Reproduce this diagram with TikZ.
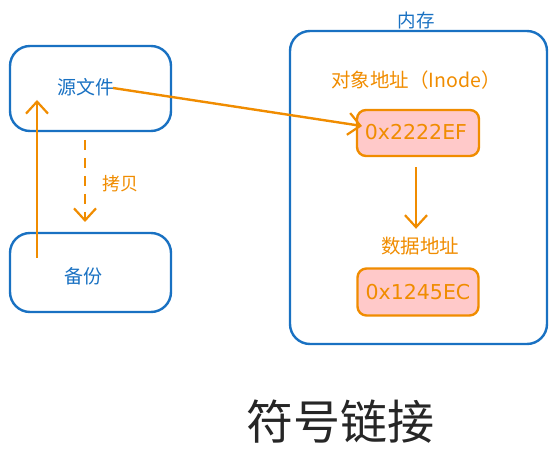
\documentclass[tikz,border=0pt]{standalone}
\usepackage{fontspec}
\setmainfont{Noto Sans CJK SC}
\newfontfamily\addrfont{DejaVu Sans}
\usetikzlibrary{arrows.meta}
\definecolor{eblue}{HTML}{1971C2}
\definecolor{eorange}{HTML}{F08C00}
\definecolor{epink}{HTML}{FFC9C9}
\begin{document}
\begin{tikzpicture}[x=1pt,y=-1pt,
  bluebox/.style={draw=eblue,line width=2.4pt,rounded corners=20pt},
  addrbox/.style={draw=eorange,fill=epink,line width=2.4pt,rounded corners=9pt},
  bluetxt/.style={text=eblue,font=\fontsize{19}{22}\selectfont,inner sep=0pt},
  oratxt/.style={text=eorange,font=\fontsize{19.5}{22}\selectfont,inner sep=0pt},
  addrtxt/.style={text=eorange,font=\addrfont\fontsize{20.5}{24}\selectfont,inner sep=0pt},
  conn/.style={draw=eorange,line width=2.4pt,-{Straight Barb[length=12pt,width=22pt,line width=2.2pt]}}]
\useasboundingbox (0,0) rectangle (557,465);
% left boxes
\draw[bluebox] (10,46) rectangle (171,131);
\node[bluetxt] (src) at (86,87) {源文件};
\draw[bluebox] (10,233) rectangle (171,312);
\node[bluetxt] (bak) at (83,276) {备份};
% memory box
\draw[bluebox] (290,31) rectangle (547,344);
\node[bluetxt,font=\fontsize{18.5}{22}\selectfont] (mem) at (416,20) {内存};
\node[oratxt] (objlbl) at (416,80) {对象地址（Inode）};
\node[addrbox,minimum width=122pt,minimum height=46pt] (addr1) at (418,133) {};
\node[addrtxt] (a1txt) at (416,132) {0x2222EF};
\node[oratxt] (datalbl) at (420,246) {数据地址};
\node[addrbox,minimum width=121pt,minimum height=47pt] (addr2) at (418,292) {};
\node[addrtxt] (a2txt) at (418,292) {0x1245EC};
% title
\node[text=black!85,font=\fontsize{47}{52}\selectfont,inner sep=0pt] (title) at (340,422) {符号链接};
% connectors
\coordinate (srcend) at (113,88);
\coordinate (a1in) at (362,126);
\draw[conn] (srcend) -- (a1in);
\draw[conn,dashed,dash pattern=on 10pt off 8pt] (85,140) coordinate (cs) -- (85,222) coordinate (ce);
\node[oratxt,font=\fontsize{18}{22}\selectfont] (copy) at (120,184) {拷贝};
\coordinate (bakup) at (37,258);
\coordinate (srcin) at (37,100);
\draw[conn] (bakup) -- (srcin);
\draw[conn,shorten <=10pt,shorten >=8pt] (addr1.south -| 416,0) -- (datalbl.north -| 416,0);
\end{tikzpicture}
\end{document}
